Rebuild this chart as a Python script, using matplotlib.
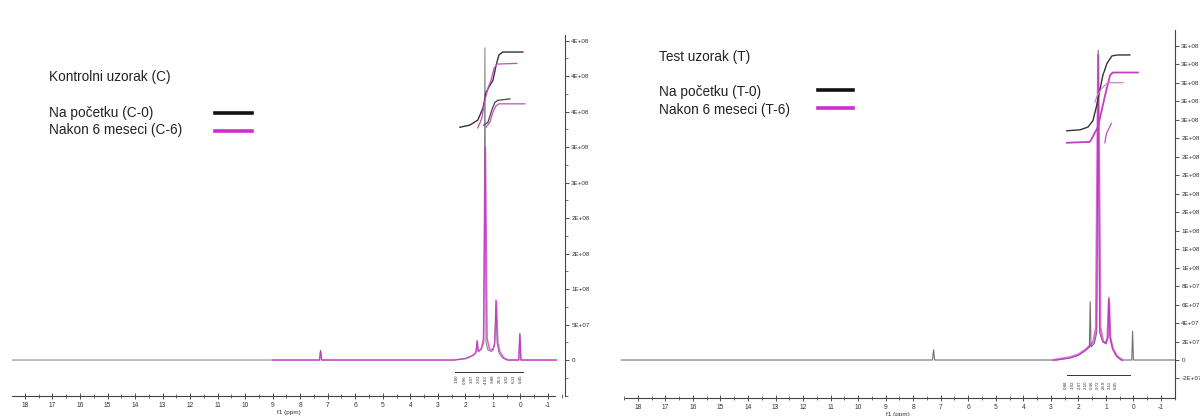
import matplotlib
matplotlib.use("Agg")
import matplotlib.pyplot as plt
from matplotlib.ticker import MultipleLocator, FixedLocator, FixedFormatter

plt.rcParams['font.family'] = ['Liberation Sans', 'DejaVu Sans']

# ---------------- data ----------------
# Control sample (C) spectra: ppm / intensity
c0_ppm = [18.45, 9.0, 7.30, 7.26, 7.22, 2.4, 2.0, 1.75, 1.62, 1.57, 1.53, 1.42, 1.33, 1.29, 1.25,
          1.18, 1.05, 0.94, 0.89, 0.85, 0.78, 0.65, 0.5, 0.06, 0.02, -0.02, -1.3]
c0_int = [0, 0, 0, 1.4e7, 0, 0, 2e6, 6e6, 1.0e7, 2.8e7, 1.2e7, 1.5e7, 2.5e7, 4.4e8, 2.5e7,
          1.4e7, 1.2e7, 2.0e7, 8.5e7, 2.5e7, 1.0e7, 3e6, 0, 0, 3.8e7, 0, 0]
c6_ppm = [9.0, 7.30, 7.26, 7.22, 2.4, 2.0, 1.75, 1.62, 1.57, 1.53, 1.42, 1.34, 1.27, 1.21, 1.12,
          1.0, 0.93, 0.87, 0.82, 0.75, 0.6, 0.45, 0.06, 0.02, -0.02, -1.3]
c6_int = [0, 0, 1.2e7, 0, 0, 2e6, 6e6, 1.0e7, 2.6e7, 1.2e7, 1.6e7, 3e7, 3.0e8, 3e7, 1.5e7,
          1.4e7, 2.5e7, 8.3e7, 2.5e7, 1.2e7, 3e6, 0, 0, 3.6e7, 0, 0]

# Control sample integral curves
c0_integ1_ppm = [2.20, 1.84, 1.55, 1.36, 1.25, 1.11, 1.00, 0.89, 0.78, 0.64, -0.09]
c0_integ1_val = [3.28e8, 3.31e8, 3.38e8, 3.55e8, 3.77e8, 3.87e8, 3.94e8, 4.14e8, 4.30e8, 4.34e8, 4.34e8]
c6_integ1_ppm = [1.55, 1.40, 1.29, 1.18, 1.07, 0.96, 0.85, 0.13]
c6_integ1_val = [3.27e8, 3.41e8, 3.66e8, 3.83e8, 3.94e8, 4.11e8, 4.17e8, 4.18e8]
c0_integ2_ppm = [1.33, 1.18, 1.04, 0.93, 0.82, 0.38]
c0_integ2_val = [3.31e8, 3.35e8, 3.52e8, 3.63e8, 3.66e8, 3.68e8]
c6_integ2_ppm = [1.25, 1.11, 1.00, 0.89, 0.78, -0.16]
c6_integ2_val = [3.28e8, 3.35e8, 3.49e8, 3.58e8, 3.61e8, 3.61e8]

# Test sample (T) spectra
t0_ppm = [18.6, 7.30, 7.26, 7.22, 2.8, 2.3, 2.0, 1.75, 1.60, 1.57, 1.54, 1.42, 1.33, 1.28, 1.23,
          1.12, 1.0, 0.93, 0.89, 0.85, 0.75, 0.6, 0.45, 0.06, 0.03, 0.0, -1.5]
t0_int = [0, 0, 1.1e7, 0, 0, 2e6, 5e6, 1.0e7, 1.4e7, 6.3e7, 1.4e7, 1.8e7, 3e7, 3.35e8, 3e7,
          2e7, 1.8e7, 2.5e7, 6.8e7, 2.5e7, 1.2e7, 4e6, 0, 0, 3.1e7, 0, 0]
t6_ppm = [2.9, 2.3, 2.0, 1.75, 1.6, 1.45, 1.36, 1.28, 1.20, 1.10, 1.0, 0.94, 0.89, 0.84, 0.75, 0.6, 0.4]
t6_int = [0, 3e6, 6e6, 1.1e7, 1.5e7, 2e7, 3.5e7, 3.3e8, 3.5e7, 2e7, 1.8e7, 2.4e7, 6.5e7, 2.4e7,
          1.2e7, 4e6, 0]

# Test sample integral curves
t0_integ_ppm = [2.42, 1.94, 1.65, 1.47, 1.33, 1.22, 1.11, 0.96, 0.78, 0.56, 0.13]
t0_integ_val = [2.48e8, 2.49e8, 2.52e8, 2.59e8, 2.76e8, 2.92e8, 3.08e8, 3.21e8, 3.29e8, 3.30e8, 3.30e8]
t6_integ_ppm = [2.42, 1.58, 1.29, 1.04, 0.85, 0.75, -0.16]
t6_integ_val = [2.35e8, 2.36e8, 2.52e8, 2.85e8, 3.08e8, 3.11e8, 3.11e8]
t6_integ2_ppm = [1.40, 1.33, 1.15, 0.93, 0.38]
t6_integ2_val = [2.79e8, 2.85e8, 2.94e8, 3.00e8, 3.00e8]
t6_integ3_ppm = [1.04, 0.98, 0.80]
t6_integ3_val = [2.35e8, 2.45e8, 2.56e8]

# Integration region labels
c_int_ppm = [2.30, 2.01, 1.76, 1.50, 1.25, 0.99, 0.74, 0.48, 0.23, -0.02]
c_int_lbl = ["1.00", "0.96", "3.07", "2.01", "4.93", "9.88", "24.5", "3.02", "6.11", "0.45"]
t_int_ppm = [2.45, 2.22, 1.94, 1.72, 1.50, 1.28, 1.06, 0.85, 0.64]
t_int_lbl = ["0.88", "1.02", "2.97", "2.10", "5.06", "9.72", "23.8", "3.11", "6.05"]

# Axis ticks
x_ticks = list(range(18, -2, -1))
c_yticks = [0, 5e7, 1e8, 1.5e8, 2e8, 2.5e8, 3e8, 3.5e8, 4e8, 4.5e8]
c_ylabels = ['0', '5E+07', '1E+08', '2E+08', '2E+08', '3E+08', '3E+08', '4E+08', '4E+08', '4E+08']
t_yticks = [-2e7 + 2e7 * i for i in range(19)]
t_ylabels = ['-2E+07', '0', '2E+07', '4E+07', '6E+07', '8E+07', '1E+08', '1E+08', '1E+08',
             '2E+08', '2E+08', '2E+08', '2E+08', '2E+08', '3E+08', '3E+08', '3E+08', '3E+08', '3E+08']

BLACK = '#111111'
MAG = '#d22bd2'
TXT = '#222222'

W, H = 1200, 416
fig = plt.figure(figsize=(12, 4.16), dpi=100)


def rect(x0, y_top, x1, y_bot):
    return [x0 / W, 1 - y_bot / H, (x1 - x0) / W, (y_bot - y_top) / H]


def style_axes(ax, xlim, ylim, yticks, ylabels, minor_y, xbound):
    ax.set_xlim(*xlim)
    ax.set_ylim(*ylim)
    for s in ('top', 'left'):
        ax.spines[s].set_visible(False)
    for s in ('bottom', 'right'):
        ax.spines[s].set_color('#444444')
        ax.spines[s].set_linewidth(0.8)
    ax.spines['bottom'].set_bounds(*xbound)
    ax.yaxis.tick_right()
    ax.yaxis.set_major_locator(FixedLocator(yticks))
    ax.yaxis.set_major_formatter(FixedFormatter(ylabels))
    if minor_y:
        ax.yaxis.set_minor_locator(MultipleLocator(minor_y))
    ax.set_xticks(x_ticks)
    ax.set_xticklabels([str(t) for t in x_ticks])
    ax.xaxis.set_minor_locator(MultipleLocator(0.5))
    ax.tick_params(axis='x', which='major', direction='inout', length=4, width=0.6,
                   labelsize=4.8, pad=2.5, colors='#333333')
    ax.tick_params(axis='x', which='minor', direction='inout', length=2.5, width=0.5,
                   colors='#333333')
    ax.tick_params(axis='y', which='major', direction='out', length=3, width=0.6,
                   labelsize=4.5, pad=1.5, colors='#333333')
    ax.tick_params(axis='y', which='minor', direction='out', length=2, width=0.5,
                   colors='#333333')
    ax.set_xlabel('f1 (ppm)', fontsize=4.6, labelpad=0.3, color='#333333')
    ax.patch.set_alpha(0)


# ---------------- left panel: control ----------------
axL = fig.add_axes(rect(12, 35, 565, 396))
style_axes(axL, (18.47, -1.62), (-5.07e7, 4.58e8), c_yticks, c_ylabels, 2.5e7, (18.47, -1.27))
axL.plot(c0_ppm, c0_int, color=BLACK, lw=0.7, alpha=0.55)
axL.plot(c6_ppm, c6_int, color=MAG, lw=1.1, alpha=0.75)
axL.plot(c0_integ1_ppm, c0_integ1_val, color='#333333', lw=1.0)
axL.plot(c6_integ1_ppm, c6_integ1_val, color='#c050c0', lw=0.9)
axL.plot(c0_integ2_ppm, c0_integ2_val, color='#444444', lw=0.9)
axL.plot(c6_integ2_ppm, c6_integ2_val, color='#c050c0', lw=0.9)
axL.plot([2.38, -0.09], [-1.69e7, -1.69e7], color='#333333', lw=0.7)
for p, lbl in zip(c_int_ppm, c_int_lbl):
    axL.text(p, -2.1e7, lbl, rotation=90, fontsize=3.2, ha='center', va='top', color='#333333')

# ---------------- right panel: test ----------------
axR = fig.add_axes(rect(620, 30, 1175, 398))
style_axes(axR, (18.65, -1.51), (-4.11e7, 3.57e8), t_yticks, t_ylabels, None, (18.47, -1.51))
axR.plot(t0_ppm, t0_int, color=BLACK, lw=0.8, alpha=0.6)
axR.plot(t6_ppm, t6_int, color=MAG, lw=1.6, alpha=0.7)
axR.plot(t0_integ_ppm, t0_integ_val, color='#333333', lw=1.0)
axR.plot(t6_integ_ppm, t6_integ_val, color='#c040c0', lw=1.3)
axR.plot(t6_integ2_ppm, t6_integ2_val, color='#d080d0', lw=0.9)
axR.plot(t6_integ3_ppm, t6_integ3_val, color='#c050c0', lw=0.9)
axR.plot([2.42, 0.13], [-1.62e7, -1.62e7], color='#333333', lw=0.7)
for p, lbl in zip(t_int_ppm, t_int_lbl):
    axR.text(p, -2.2e7, lbl, rotation=90, fontsize=3.2, ha='center', va='top', color='#333333')


# ---------------- annotations / legends ----------------
def ftext(x, y, s):
    fig.text(x / W, 1 - y / H, s, fontsize=9.8, color=TXT, ha='left', va='center')


def fline(x0, x1, y, c):
    fig.add_artist(plt.Line2D([x0 / W, x1 / W], [1 - y / H, 1 - y / H], color=c, lw=2.6))


ftext(49, 77, 'Kontrolni uzorak (C)')
ftext(49, 113, 'Na početku (C-0)')
ftext(49, 130, 'Nakon 6 meseci (C-6)')
fline(215, 252, 113, BLACK)
fline(215, 252, 131, MAG)

ftext(659, 57, 'Test uzorak (T)')
ftext(659, 92, 'Na početku (T-0)')
ftext(659, 110, 'Nakon 6 meseci (T-6)')
fline(818, 853, 90, BLACK)
fline(818, 853, 108, MAG)

fig.savefig('out.png', dpi=100, facecolor='white')
